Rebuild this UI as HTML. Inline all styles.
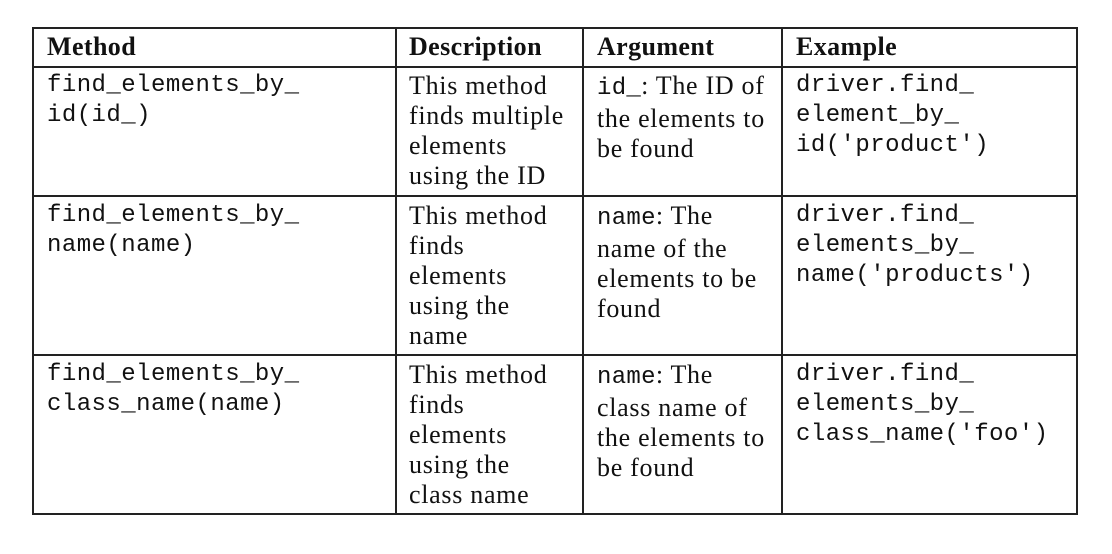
<!DOCTYPE html>
<html><head><meta charset="utf-8"><style>
html,body{margin:0;padding:0;background:#fff;}
body{width:1112px;height:554px;position:relative;overflow:hidden;}
.l{position:absolute;background:#222;}
.c{position:absolute;font-family:"Liberation Serif",serif;font-size:26px;line-height:30px;color:#111;white-space:pre;letter-spacing:0.7px;}
.h{font-weight:bold;letter-spacing:0.4px;}
.m{font-family:"Liberation Mono",monospace;font-size:24px;letter-spacing:0.45px;}
.im{font-family:"Liberation Mono",monospace;font-size:24px;letter-spacing:0.3px;}
</style></head><body>
<div>
<div class="l" style="left:32px;top:27px;width:1046px;height:1.5px"></div>
<div class="l" style="left:32px;top:513px;width:1046px;height:1.5px"></div>
<div class="l" style="left:32px;top:27px;width:1.5px;height:488px"></div>
<div class="l" style="left:1076px;top:27px;width:1.5px;height:488px"></div>
<div class="l" style="left:395px;top:27px;width:1.5px;height:488px"></div>
<div class="l" style="left:582px;top:27px;width:1.5px;height:488px"></div>
<div class="l" style="left:781px;top:27px;width:1.5px;height:488px"></div>
<div class="l" style="left:32px;top:66px;width:1046px;height:1.5px"></div>
<div class="l" style="left:32px;top:195px;width:1046px;height:1.5px"></div>
<div class="l" style="left:32px;top:354px;width:1046px;height:1.5px"></div>

<div class="c h" style="left:47px;top:32px">Method</div>
<div class="c h" style="left:409px;top:32px">Description</div>
<div class="c h" style="left:597px;top:32px">Argument</div>
<div class="c h" style="left:796px;top:32px">Example</div>

<div class="c m" style="left:47px;top:71px">find_elements_by_
id(id_)</div>
<div class="c" style="left:409px;top:71px">This method
finds multiple
elements
using the ID</div>
<div class="c" style="left:597px;top:71px"><span class="im">id_</span>: The ID of
the elements to
be found</div>
<div class="c m" style="left:796px;top:71px">driver.find_
element_by_
id('product')</div>

<div class="c m" style="left:47px;top:201px">find_elements_by_
name(name)</div>
<div class="c" style="left:409px;top:201px">This method
finds
elements
using the
name</div>
<div class="c" style="left:597px;top:201px"><span class="im">name</span>: The
name of the
elements to be
found</div>
<div class="c m" style="left:796px;top:201px">driver.find_
elements_by_
name('products')</div>

<div class="c m" style="left:47px;top:360px">find_elements_by_
class_name(name)</div>
<div class="c" style="left:409px;top:360px">This method
finds
elements
using the
class name</div>
<div class="c" style="left:597px;top:360px"><span class="im">name</span>: The
class name of
the elements to
be found</div>
<div class="c m" style="left:796px;top:360px">driver.find_
elements_by_
class_name('foo')</div>
</div>
</body></html>
